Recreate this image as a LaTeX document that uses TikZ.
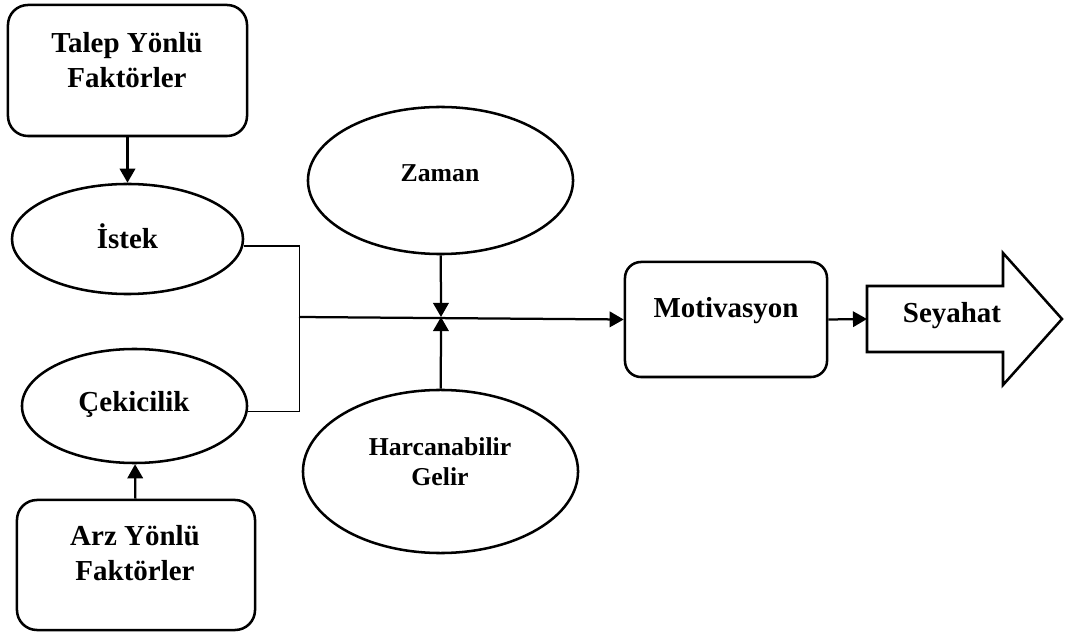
\documentclass[tikz,border=0pt]{standalone}
\usepackage{fontspec}
\setmainfont{Liberation Serif}
\usetikzlibrary{arrows.meta,shapes.geometric}

\begin{document}
\begin{tikzpicture}[x=0.025cm,y=-0.025cm,
    kutu/.style={draw,line width=1.8pt,rounded corners=0.5cm,inner sep=0pt},
    elips/.style={draw,ellipse,line width=1.8pt,inner sep=0pt},
    yazi/.style={font=\bfseries\fontsize{20.6}{25}\selectfont,align=center,inner sep=0pt},
    kyazi/.style={font=\bfseries\fontsize{18.3}{21.3}\selectfont,align=center,inner sep=0pt},
    ok/.style={-{Triangle[length=10pt,width=11pt]},line width=1.6pt},
    ince/.style={line width=0.8pt}]
    \useasboundingbox (0,0) rectangle (1066,635);
    % kutular ve elipsler
    \node[kutu,minimum width=5.975cm,minimum height=3.275cm] (talep) at (127.5,70.5) {};
    \node[yazi] (talepT) at (127,60) {Talep Yönlü\\Faktörler};
    \node[elips,minimum width=5.775cm,minimum height=2.75cm] (istek) at (127.5,239) {};
    \node[yazi] (istekT) at (127.5,236) {İstek};
    \node[elips,minimum width=5.625cm,minimum height=2.85cm] (cekici) at (134.5,406) {};
    \node[yazi] (cekiciT) at (134,404) {Çekicilik};
    \node[kutu,minimum width=5.95cm,minimum height=3.25cm] (arz) at (136,565) {};
    \node[yazi] (arzT) at (135,553.5) {Arz Yönlü\\Faktörler};
    \node[elips,minimum width=6.625cm,minimum height=3.675cm] (zaman) at (440.5,180.5) {};
    \node[kyazi] (zamanT) at (440,173) {Zaman};
    \node[elips,minimum width=6.875cm,minimum height=4.075cm] (harca) at (440.5,471.5) {};
    \node[kyazi] (harcaT) at (440,462) {Harcanabilir\\Gelir};
    \node[kutu,rounded corners=0.4cm,minimum width=5.05cm,minimum height=2.875cm] (motiv) at (726,319.5) {};
    \node[yazi] (motivT) at (726,311) {Motivasyon};
    % seyahat oku
    \draw[line width=1.8pt] (867,286) -- (1003,286) -- (1003,253) -- (1062,319)
        -- (1003,385) -- (1003,352) -- (867,352) -- cycle;
    \coordinate (seyahat) at (867,319);
    \node[yazi] (seyahatT) at (952,316) {Seyahat};
    % baglantilar
    \coordinate (bag) at (299,317);
    \coordinate (kesisim) at (441,317);
    \draw[ok] (talep) -- (istek);
    \draw[ok] (arz) -- (cekici);
    \draw[ince] ([yshift=-5pt]istek.east) -- ++(55,0) |- ([yshift=-4pt]cekici.east);
    \draw[ok] (bag) -- (motiv.west);
    \draw[ok] (zaman) -- (kesisim);
    \draw[ok] (harca) -- (kesisim);
    \draw[ok] (motiv.east) -- (seyahat);
\end{tikzpicture}
\end{document}
